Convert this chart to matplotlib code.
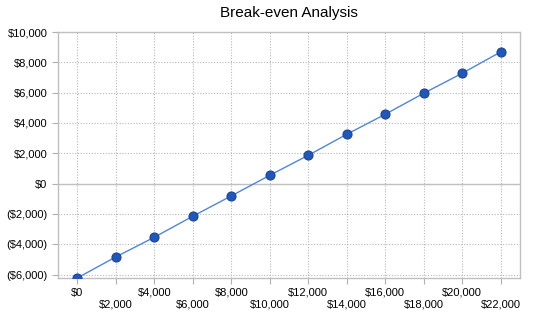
import matplotlib.pyplot as plt
import matplotlib.ticker as mticker

plt.rcParams['font.family'] = ['Liberation Sans', 'DejaVu Sans']

sales = [0, 2000, 4000, 6000, 8000, 10000, 12000, 14000, 16000, 18000, 20000, 22000]
profit = [-6225, -4838, -3538, -2152, -812, 548, 1868, 3254, 4574, 5960, 7280, 8687]
y_ticks = [-6000, -4000, -2000, 0, 2000, 4000, 6000, 8000, 10000]


def money(v, pos=None):
    if v < 0:
        return "(${:,.0f})".format(-v)
    return "${:,.0f}".format(v)


fig = plt.figure(figsize=(5.5, 3.18), dpi=100)
ax = fig.add_axes([58 / 550, 40 / 318, 462 / 550, 246 / 318])

idx = list(range(len(sales)))
ax.plot(idx, profit, color='#4f86d9', linewidth=1, marker='o', markersize=6.5,
        markerfacecolor='#2057b8', markeredgecolor='#1a4699', markeredgewidth=0.8, zorder=3)

ax.set_xlim(-0.5, len(sales) - 0.5)
ax.set_ylim(min(profit), 10000)

ax.set_yticks(y_ticks)
ax.yaxis.set_major_formatter(mticker.FuncFormatter(money))
ax.set_xticks(idx)
labels = []
for i, s in enumerate(sales):
    if i % 2 == 0:
        labels.append(money(s))
    else:
        labels.append("\n" + money(s))
ax.set_xticklabels(labels)

ax.grid(True, color='#b8b8b8', linestyle=(0, (1, 1.5)), linewidth=0.8)
ax.axhline(0, color='#c0c0c0', linewidth=1, zorder=2)
for sp in ax.spines.values():
    sp.set_color('#c0c0c0')
    sp.set_linewidth(1)

ax.tick_params(axis='both', colors='#b0b0b0', labelcolor='black', labelsize=8, length=4, width=0.8)
ax.tick_params(axis='x', pad=3)

ax.set_title("Break-even Analysis", fontsize=11, pad=11)

fig.savefig("out.png", dpi=100)
